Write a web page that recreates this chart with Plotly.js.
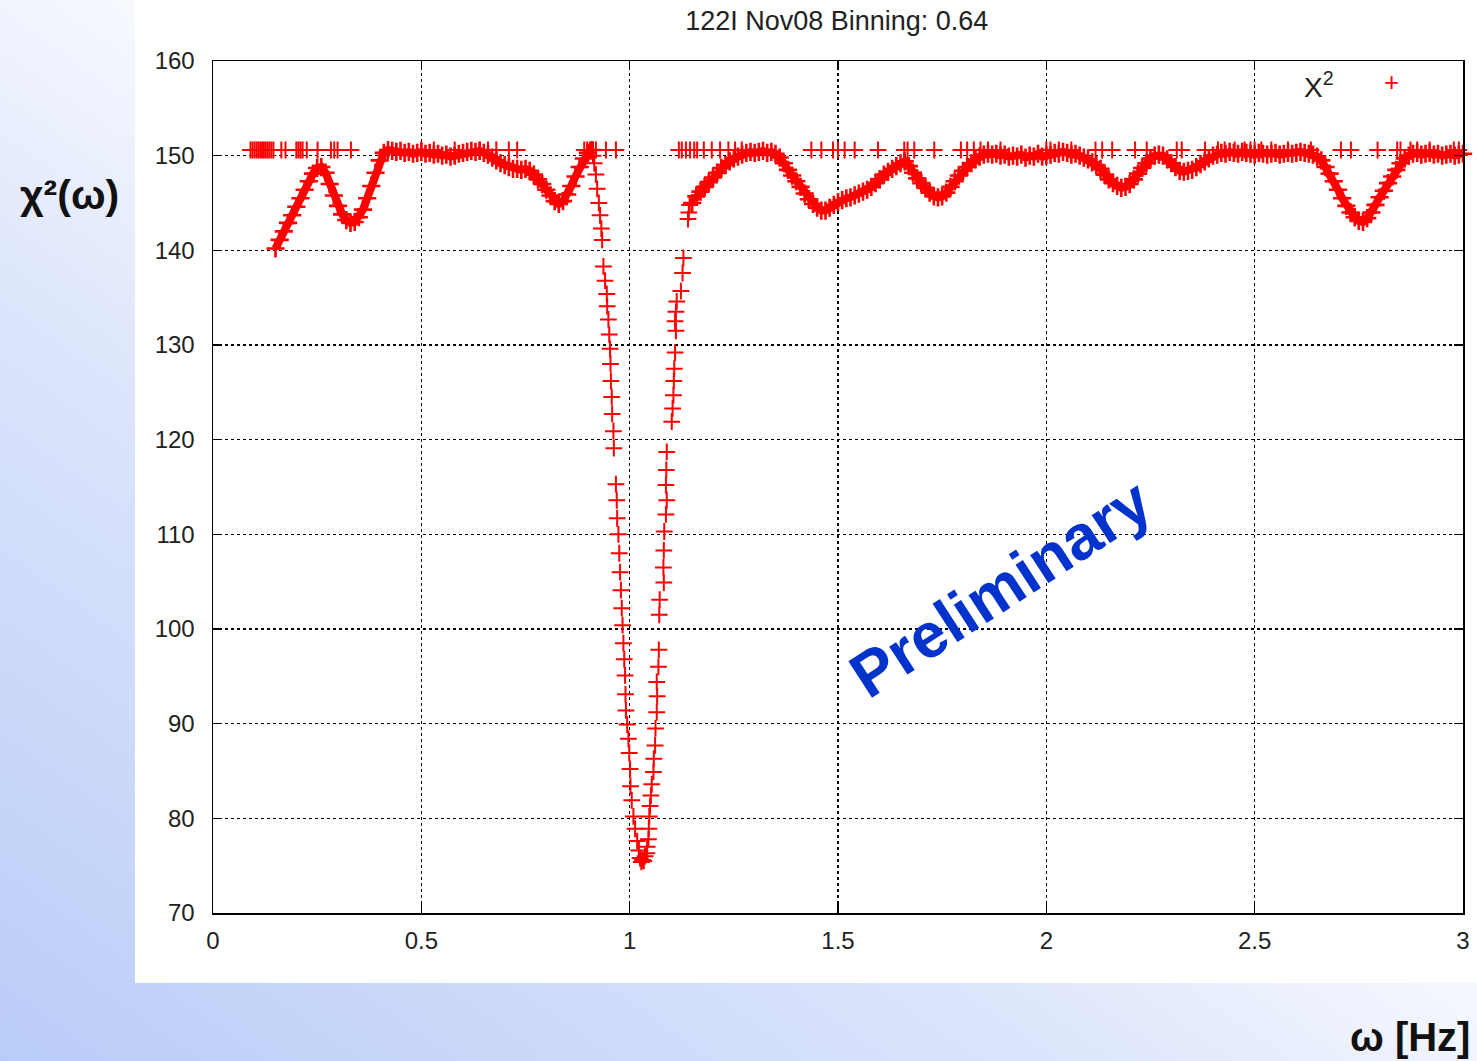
<!DOCTYPE html>
<html>
<head>
<meta charset="utf-8">
<script src="https://cdn.plot.ly/plotly-3.0.1.min.js"></script>
<style>
  html, body { margin: 0; padding: 0; }
  body {
    width: 1477px; height: 1061px; overflow: hidden; position: relative;
    background: linear-gradient(to top right, #b9ccf7 0%, #dbe4fb 35%, #ffffff 60%);
  }
  #panel { position: absolute; left: 135px; top: 0; width: 1342px; height: 983px; background: #ffffff; }
  #chart { position: absolute; left: 0; top: 0; width: 1477px; height: 1061px; }
</style>
</head>
<body>
<div id="panel"></div>
<div id="chart"></div>
<script>
// chi-square scan over trial frequency omega (Hz)

// low-frequency band, 0.15 .. 0.91 Hz
const omegaLow = [0.15,0.16,0.17,0.18,0.19,0.20,0.21,0.22,0.23,0.24,0.25,0.26,0.27,0.28,0.29,0.30,0.31,0.32,0.33,0.34,0.35,0.36,0.37,0.38,0.39,0.40,0.41,0.42,0.43,0.44,0.45,0.46,0.47,0.48,0.49,0.50,0.51,0.52,0.53,0.54,0.55,0.56,0.57,0.58,0.59,0.60,0.61,0.62,0.63,0.64,0.65,0.66,0.67,0.68,0.69,0.70,0.71,0.72,0.73,0.74,0.75,0.76,0.77,0.78,0.79,0.80,0.81,0.82,0.83,0.84,0.85,0.86,0.87,0.88,0.89,0.90,0.91];
const chiLow = [140.2,141.1,142.0,142.9,143.7,144.6,145.5,146.4,147.3,148.1,148.7,148.8,148.2,147.0,145.8,144.7,143.8,143.2,142.9,143.0,143.5,144.3,145.5,146.8,148.2,149.5,150.3,150.6,150.5,150.4,150.5,150.3,150.4,150.2,150.3,150.4,150.2,150.3,150.1,150.2,150.0,150.1,149.9,150.0,150.2,150.3,150.4,150.5,150.4,150.5,150.3,150.1,149.8,149.5,149.2,149.0,148.8,148.6,148.6,148.5,148.6,148.4,148.0,147.5,147.0,146.4,145.8,145.2,144.9,145.2,145.9,146.8,147.8,148.8,149.7,150.3,150.6];

// deep minimum near 1 Hz
const omegaDip = [0.912,0.915,0.919,0.922,0.926,0.929,0.932,0.934,0.937,0.941,0.945,0.946,0.949,0.951,0.953,0.954,0.955,0.957,0.958,0.961,0.962,0.967,0.969,0.970,0.973,0.975,0.977,0.979,0.981,0.983,0.985,0.987,0.989,0.990,0.991,0.994,0.997,0.999,1.001,1.002,1.005,1.009,1.013,1.018,1.022,1.025,1.028,1.031,1.034,1.037,1.041,1.042,1.045,1.046,1.047,1.049,1.051,1.053,1.057,1.058,1.061,1.062,1.065,1.066,1.065,1.069,1.070,1.071,1.072,1.082,1.081,1.082,1.083,1.087,1.089,1.087,1.088,1.089,1.101,1.103,1.105,1.106,1.107,1.109,1.111,1.109,1.111,1.113,1.123,1.127,1.129,1.140,1.142,1.144];
const chiDip = [150.0,149.2,148.0,146.5,145.0,143.7,142.3,141.1,138.3,136.8,135.4,134.1,132.7,131.1,129.6,128.0,126.2,124.5,122.7,120.9,119.1,115.3,113.6,111.7,110.0,108.0,106.0,104.1,102.2,100.4,98.5,96.8,95.1,93.1,91.4,89.9,88.4,86.9,85.2,83.4,81.9,80.2,78.9,77.6,76.6,75.8,75.4,75.6,75.5,76.0,76.3,77.0,77.8,78.9,80.2,81.3,82.4,83.6,84.9,86.3,87.7,89.5,91.2,92.9,94.4,96.0,97.8,101.5,103.1,104.9,106.5,108.3,110.3,112.1,113.6,115.2,116.8,118.7,121.9,123.3,124.7,126.2,127.5,129.2,131.5,132.5,133.5,134.6,135.7,137.6,139.2,143.3,144.0,144.8];

// high-frequency band, 1.15 .. 3.00 Hz
const omegaHigh = [1.15,1.16,1.17,1.18,1.19,1.20,1.21,1.22,1.23,1.24,1.25,1.26,1.27,1.28,1.29,1.30,1.31,1.32,1.33,1.34,1.35,1.36,1.37,1.38,1.39,1.40,1.41,1.42,1.43,1.44,1.45,1.46,1.47,1.48,1.49,1.50,1.51,1.52,1.53,1.54,1.55,1.56,1.57,1.58,1.59,1.60,1.61,1.62,1.63,1.64,1.65,1.66,1.67,1.68,1.69,1.70,1.71,1.72,1.73,1.74,1.75,1.76,1.77,1.78,1.79,1.80,1.81,1.82,1.83,1.84,1.85,1.86,1.87,1.88,1.89,1.90,1.91,1.92,1.93,1.94,1.95,1.96,1.97,1.98,1.99,2.00,2.01,2.02,2.03,2.04,2.05,2.06,2.07,2.08,2.09,2.10,2.11,2.12,2.13,2.14,2.15,2.16,2.17,2.18,2.19,2.20,2.21,2.22,2.23,2.24,2.25,2.26,2.27,2.28,2.29,2.30,2.31,2.32,2.33,2.34,2.35,2.36,2.37,2.38,2.39,2.40,2.41,2.42,2.43,2.44,2.45,2.46,2.47,2.48,2.49,2.50,2.51,2.52,2.53,2.54,2.55,2.56,2.57,2.58,2.59,2.60,2.61,2.62,2.63,2.64,2.65,2.66,2.67,2.68,2.69,2.70,2.71,2.72,2.73,2.74,2.75,2.76,2.77,2.78,2.79,2.80,2.81,2.82,2.83,2.84,2.85,2.86,2.87,2.88,2.89,2.90,2.91,2.92,2.93,2.94,2.95,2.96,2.97,2.98,2.99,3.00];
const chiHigh = [145.0,145.7,146.2,146.7,147.2,147.7,148.2,148.7,149.0,149.4,149.7,149.9,150.1,150.3,150.4,150.3,150.4,150.5,150.3,150.4,150.2,149.8,149.2,148.5,147.9,147.3,146.7,146.0,145.4,144.9,144.5,144.2,144.2,144.5,144.8,145.1,145.3,145.5,145.6,145.8,146.0,146.2,146.4,146.7,147.1,147.5,148.0,148.3,148.6,148.9,149.2,149.4,148.9,148.2,147.6,147.1,146.6,146.1,145.7,145.6,145.7,146.1,146.7,147.3,147.9,148.4,148.8,149.2,149.6,149.9,150.1,150.2,150.1,150.2,150.0,150.1,149.9,150.0,149.9,150.1,149.8,150.0,149.9,150.2,149.9,150.0,150.1,150.3,150.2,150.4,150.3,150.1,150.2,150.0,149.8,149.6,149.3,149.0,148.6,148.0,147.5,147.1,146.8,146.6,146.7,147.0,147.5,148.1,148.7,149.2,149.7,150.0,150.1,150.0,149.6,149.2,148.8,148.4,148.3,148.4,148.5,148.8,149.1,149.4,149.7,150.0,150.1,150.3,150.2,150.4,150.3,150.2,150.4,150.3,150.2,150.1,150.3,150.2,150.1,150.2,150.3,150.1,150.2,150.3,150.2,150.3,150.4,150.3,150.2,150.1,149.9,149.5,148.8,148.1,147.3,146.4,145.5,144.7,144.0,143.5,143.1,143.0,143.4,144.0,144.8,145.6,146.3,147.1,147.8,148.5,149.2,149.7,150.0,150.2,150.3,150.1,150.2,150.3,150.1,150.2,150.0,150.1,150.2,150.0,150.1,150.2];

// points sitting on the upper cut-off
const omegaCap = [0.090,0.095,0.100,0.105,0.110,0.115,0.120,0.125,0.130,0.135,0.140,0.145,0.164,0.174,0.200,0.205,0.210,0.215,0.225,0.251,0.283,0.291,0.299,0.331,0.50,0.53,0.58,0.64,0.66,0.68,0.71,0.73,0.891,0.898,0.905,0.912,0.919,0.943,0.967,1.118,1.125,1.135,1.145,1.155,1.162,1.178,1.197,1.217,1.237,1.253,1.269,1.436,1.460,1.488,1.500,1.516,1.540,1.596,1.659,1.667,1.683,1.731,1.795,1.810,1.826,1.842,1.860,1.890,2.000,2.010,2.030,2.060,2.118,2.134,2.158,2.213,2.241,2.313,2.325,2.381,2.412,2.428,2.452,2.476,2.490,2.500,2.516,2.540,2.580,2.635,2.707,2.731,2.795,2.842,2.850,2.874,2.890,2.920,2.978,2.990,3.000];
const chiCap = [150.6,150.6,150.6,150.6,150.6,150.6,150.6,150.6,150.6,150.6,150.6,150.6,150.6,150.6,150.6,150.6,150.6,150.6,150.6,150.6,150.6,150.6,150.6,150.6,150.6,150.6,150.6,150.6,150.6,150.6,150.6,150.6,150.6,150.6,150.6,150.6,150.6,150.6,150.6,150.6,150.6,150.6,150.6,150.6,150.6,150.6,150.6,150.6,150.6,150.6,150.6,150.6,150.6,150.6,150.6,150.6,150.6,150.6,150.6,150.6,150.6,150.6,150.6,150.6,150.6,150.6,150.6,150.6,150.6,150.6,150.6,150.6,150.6,150.6,150.6,150.6,150.6,150.6,150.6,150.6,150.6,150.6,150.6,150.6,150.6,150.6,150.6,150.6,150.6,150.6,150.6,150.6,150.6,150.6,150.6,150.6,150.6,150.6,150.6,150.6];

const xTicks = [0, 0.5, 1, 1.5, 2, 2.5, 3];
const xTickText = ['0', '0.5', '1', '1.5', '2', '2.5', '3'];
const yTicks = [70, 80, 90, 100, 110, 120, 130, 140, 150, 160];

const RED = '#ff0000';

function plusMarker(size, width) {
  return { symbol: 'cross-thin-open', size: size, color: RED, line: { color: RED, width: width } };
}

// densely sampled stretches: crosses merge into a solid band
function band(x, y) {
  return { x: x, y: y, type: 'scatter', mode: 'lines+markers',
           line: { color: RED, width: 8 }, marker: plusMarker(13, 2.6),
           showlegend: false, hoverinfo: 'skip', cliponaxis: false };
}

// sparse stretches: individual crosses
function sparse(x, y) {
  return { x: x, y: y, type: 'scatter', mode: 'markers', marker: plusMarker(12, 2),
           showlegend: false, hoverinfo: 'skip', cliponaxis: false };
}

const traces = [
  sparse(omegaCap, chiCap),
  band(omegaLow, chiLow),
  sparse(omegaDip, chiDip),
  band(omegaHigh, chiHigh)
];

const FONT = 'Liberation Sans, Arial, sans-serif';
const tickFont = { family: FONT, size: 24, color: '#222222' };
const gridStyle = { showgrid: true, gridcolor: '#000000', gridwidth: 1.2, griddash: '3px,3px' };

const layout = {
  width: 1477, height: 1061,
  paper_bgcolor: 'rgba(0,0,0,0)',
  plot_bgcolor: 'rgba(0,0,0,0)',
  margin: { l: 213, r: 14, t: 61, b: 148, pad: 0 },
  title: {
    text: '122I Nov08 Binning: 0.64',
    font: { family: FONT, size: 27, color: '#222222' },
    x: 0.499, xref: 'paper', xanchor: 'center',
    y: 0.981, yref: 'container', yanchor: 'middle'
  },
  xaxis: Object.assign({
    range: [0, 3], tickvals: xTicks, ticktext: xTickText,
    ticks: 'inside', ticklen: 9, tickwidth: 1.5, tickcolor: '#000000',
    showline: true, linecolor: '#000000', linewidth: 1.5, mirror: 'allticks',
    zeroline: false, tickfont: tickFont, ticklabelstandoff: 6, automargin: false
  }, gridStyle),
  yaxis: Object.assign({
    range: [70, 160], tickvals: yTicks,
    ticks: 'inside', ticklen: 9, tickwidth: 1.5, tickcolor: '#000000',
    showline: true, linecolor: '#000000', linewidth: 1.5, mirror: 'allticks',
    zeroline: false, tickfont: tickFont, ticklabelstandoff: 12, automargin: false
  }, gridStyle),
  annotations: [
    { text: 'X<sup>2</sup>', xref: 'paper', yref: 'paper', x: 0.885, y: 0.972,
      xanchor: 'center', yanchor: 'middle', showarrow: false,
      font: { family: FONT, size: 28, color: '#222222' } },
    { text: '+', xref: 'paper', yref: 'paper', x: 0.943, y: 0.975,
      xanchor: 'center', yanchor: 'middle', showarrow: false,
      font: { family: FONT, size: 26, color: RED } },
    { text: '<b>χ²(ω)</b>', xref: 'paper', yref: 'paper', x: -0.115, y: 0.843,
      xanchor: 'center', yanchor: 'middle', showarrow: false,
      font: { family: FONT, size: 41, color: '#111111' } },
    { text: '<b>ω [Hz]</b>', xref: 'paper', yref: 'paper', x: 1.007, y: -0.146,
      xanchor: 'right', yanchor: 'middle', showarrow: false,
      font: { family: FONT, size: 40, color: '#111111' } },
    { text: '<b>Preliminary</b>', xref: 'paper', yref: 'paper', x: 0.63, y: 0.381,
      xanchor: 'center', yanchor: 'middle', showarrow: false, textangle: -33,
      font: { family: FONT, size: 63, color: '#0033cc' } }
  ]
};

Plotly.newPlot('chart', traces, layout, { staticPlot: true, displayModeBar: false });
</script>
</body>
</html>
